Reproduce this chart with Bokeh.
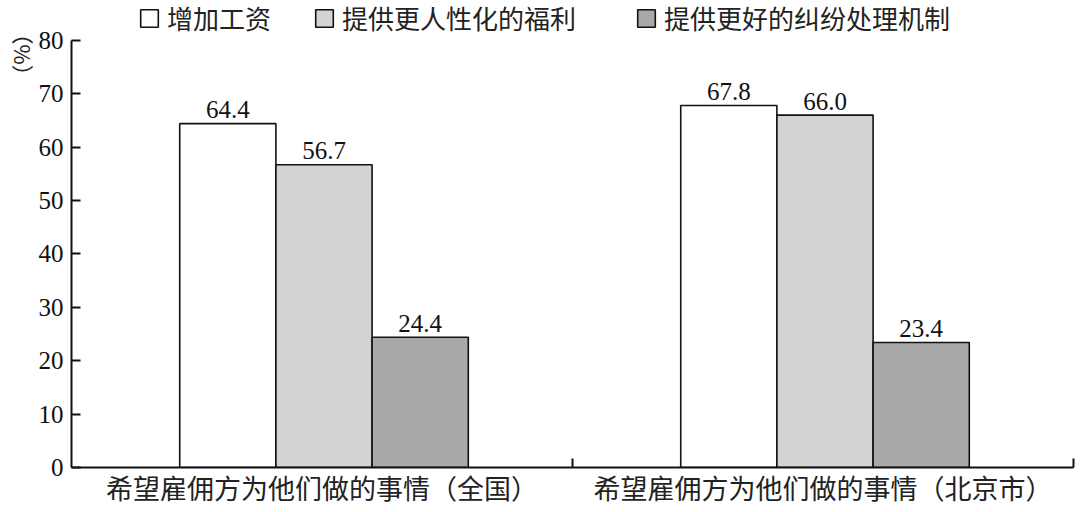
from bokeh.plotting import figure
from bokeh.models import (ColumnDataSource, Range1d, FixedTicker, Legend, LegendItem, Title)
from bokeh.core.properties import value
from bokeh.embed import file_html
from bokeh.resources import INLINE

groups = ["希望雇佣方为他们做的事情（全国）", "希望雇佣方为他们做的事情（北京市）"]
series = ["增加工资", "提供更人性化的福利", "提供更好的纠纷处理机制"]
wage = [64.4, 67.8]
welfare = [56.7, 66.0]
dispute = [24.4, 23.4]
y_ticks = [0, 10, 20, 30, 40, 50, 60, 70, 80]
unit_label = "（%）"

values = [wage, welfare, dispute]
colors = ["#ffffff", "#d3d3d3", "#a9a9aa"]
offsets = [-0.188, 0.004, 0.196]
bar_w = 0.192

# frame spans from the canvas top to the axis; the axis line itself stops at 80
p = figure(width=1078, height=509, output_backend="svg", toolbar_location=None,
           x_range=Range1d(0, 2), y_range=Range1d(0, 80 * 469 / 429),
           min_border_left=71, min_border_right=5, min_border_top=0, min_border_bottom=40)
p.background_fill_color = "white"
p.border_fill_color = "white"
p.outline_line_color = None
p.xgrid.visible = False
p.ygrid.visible = False

renderers = []
for vals, col, off in zip(values, colors, offsets):
    xs = [i + 0.5 + off for i in range(len(groups))]
    src = ColumnDataSource(dict(x=xs, top=vals, label=["%.1f" % v for v in vals]))
    r = p.vbar(x="x", top="top", width=bar_w, bottom=0, source=src,
               fill_color=col, line_color="#111111", line_width=1.6)
    renderers.append(r)
    p.text(x="x", y="top", text="label", source=src, text_align="center",
           text_baseline="alphabetic", y_offset=-14,
           text_font=value("Liberation Serif"), text_font_size="25px", text_color="#111111")

# y axis
ya = p.yaxis[0]
ya.ticker = FixedTicker(ticks=y_ticks, minor_ticks=[])
ya.bounds = (0, 80)
ya.axis_line_width = 2
ya.axis_line_color = "#111111"
ya.major_tick_in = 9
ya.major_tick_out = 0
ya.major_tick_line_width = 2
ya.major_tick_line_color = "#111111"
ya.minor_tick_line_color = None
ya.major_label_standoff = 8
ya.major_label_text_font = "Liberation Serif"
ya.major_label_text_font_size = "25px"
ya.major_label_text_color = "#111111"

# x axis
xa = p.xaxis[0]
xa.ticker = FixedTicker(ticks=[0.5, 1.5], minor_ticks=[1.0, 2.0])
xa.major_label_overrides = {0.5: groups[0], 1.5: groups[1]}
xa.axis_line_width = 2
xa.axis_line_color = "#111111"
xa.major_tick_in = 0
xa.major_tick_out = 0
xa.major_tick_line_color = None
xa.minor_tick_in = 9
xa.minor_tick_out = 0
xa.minor_tick_line_width = 2
xa.minor_tick_line_color = "#111111"
xa.major_label_standoff = 0
xa.major_label_text_font = "Noto Sans CJK SC"
xa.major_label_text_font_size = "27px"
xa.major_label_text_color = "#222222"

# unit label on the left, near the top
p.add_layout(Title(text=unit_label, align="right", standoff=0, offset=22,
                   text_font="Noto Sans CJK SC", text_font_size="22px",
                   text_font_style="normal", text_color="#222222"), "left")

# legends across the top, one per series
leg_x = [67, 242, 564]
for r, name, lx in zip(renderers, series, leg_x):
    lg = Legend(items=[LegendItem(label=name, renderers=[r])], location=(lx, 431),
                orientation="horizontal", padding=0, margin=0, border_line_color=None,
                background_fill_alpha=0, glyph_width=22, glyph_height=22,
                label_standoff=7, label_height=26,
                label_text_font="Noto Sans CJK SC", label_text_font_size="26px",
                label_text_color="#222222")
    p.add_layout(lg, "center")

open("out.html", "w").write(file_html(p, INLINE))
